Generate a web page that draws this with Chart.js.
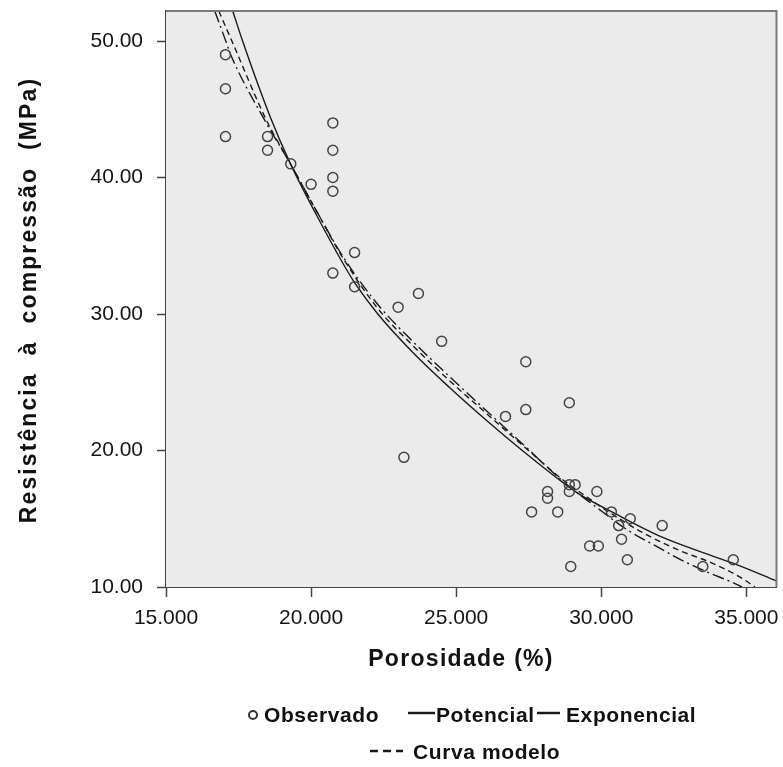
<!DOCTYPE html>
<html><head><meta charset="utf-8">
<script src="https://cdn.jsdelivr.net/npm/chart.js@4/dist/chart.umd.min.js"></script>
<style>html,body{margin:0;padding:0;background:#fff}#wrap{width:783px;height:767px;position:relative}</style>
</head><body><div id="wrap"><canvas id="c" width="783" height="767"></canvas></div>
<script>
// Observed points (Porosidade %, Resistência MPa)
const obsX = [17.05,17.05,17.05,18.5,18.5,19.3,20.0,20.75,20.75,20.75,20.75,21.5,20.75,21.5,23.7,23.0,24.5,27.4,27.4,26.7,28.9,23.2,28.9,29.1,28.9,28.15,28.15,29.85,27.6,28.5,30.35,31.0,30.6,32.1,30.7,29.6,29.9,30.9,28.95,33.5,34.55];
const obsY = [49.0,46.5,43.0,43.0,42.0,41.0,39.5,44.0,42.0,40.0,39.0,34.5,33.0,32.0,31.5,30.5,28.0,26.5,23.0,22.5,23.5,19.5,17.5,17.5,17.0,17.0,16.5,17.0,15.5,15.5,15.5,15.0,14.5,14.5,13.5,13.0,13.0,12.0,11.5,11.5,12.0];
// Potencial curve
const potX = [17.30,17.64,18.60,19.29,20.20,21.10,21.50,22.30,23.50,24.78,26.05,27.28,28.65,29.24,30.37,32.10,33.80,34.60,36.04];
const potY = [52.2,50.0,44.4,41.0,37.2,33.7,32.3,30.0,27.2,24.6,22.2,20.0,17.7,16.8,15.5,13.65,12.3,11.7,10.45];
// Exponencial curve
const expX = [16.68,17.06,17.23,18.40,19.29,20.20,21.10,22.30,23.50,24.78,26.05,27.28,28.65,29.80,30.90,32.00,32.60,33.70,34.40,34.85];
const expY = [52.2,50.0,49.0,44.2,41.0,37.5,34.2,30.7,28.0,25.4,22.9,20.5,17.8,15.9,14.18,12.87,12.15,11.05,10.45,10.0];
// Curva modelo
const modX = [16.82,17.27,18.46,19.29,20.20,21.10,22.30,23.50,24.78,26.05,27.28,28.65,29.50,30.40,31.50,32.67,33.80,34.80,35.30];
const modY = [52.2,50.0,44.2,41.0,37.5,34.1,30.4,27.7,25.1,22.7,20.4,17.9,16.6,15.3,13.9,12.7,11.77,10.7,10.0];

const xTicks = [15,20,25,30,35];
const yTicks = [10,20,30,40,50];
const xTitle = 'Porosidade (%)';
const yTitle = 'Resistência  à  compressão  (MPa)';
const seriesLabels = ['Observado','Potencial','Exponencial','Curva modelo'];

const pts = (xs, ys) => xs.map((x, i) => ({x: x, y: ys[i]}));
const INK = '#1a1a1a';
const FONT = "'Liberation Sans', Arial, sans-serif";

const decor = {
  id: 'decor',
  beforeDatasetsDraw(chart) {
    const a = chart.chartArea, ctx = chart.ctx;
    ctx.save();
    ctx.fillStyle = '#ebebeb';
    ctx.fillRect(a.left, a.top, a.right - a.left, a.bottom - a.top);
    ctx.restore();
  },
  afterDraw(chart) {
    const a = chart.chartArea, ctx = chart.ctx;
    ctx.save();
    // frame top/right
    ctx.strokeStyle = '#7a7a7a'; ctx.lineWidth = 2;
    ctx.beginPath(); ctx.moveTo(a.left, a.top); ctx.lineTo(a.right, a.top); ctx.lineTo(a.right, a.bottom); ctx.stroke();
    // axis titles
    ctx.fillStyle = '#111';
    ctx.textAlign = 'center'; ctx.textBaseline = 'middle';
    ctx.font = 'bold 23px ' + FONT;
    try { ctx.letterSpacing = '1.3px'; } catch(e) {}
    ctx.fillText(chart.options.scales.x.title.text, 461, 660);
    ctx.save();
    ctx.translate(30, 300); ctx.rotate(-Math.PI / 2);
    try { ctx.letterSpacing = '2.1px'; } catch(e) {}
    ctx.font = 'bold 23px ' + FONT;
    ctx.fillText(chart.options.scales.y.title.text, 0, 0);
    ctx.restore();
    // legend
    const ds = chart.data.datasets;
    ctx.font = 'bold 21px ' + FONT;
    try { ctx.letterSpacing = '0.6px'; } catch(e) {}
    ctx.textAlign = 'left';
    // Observado
    ctx.strokeStyle = '#333'; ctx.lineWidth = 2;
    ctx.beginPath(); ctx.arc(253, 715, 4, 0, Math.PI * 2); ctx.stroke();
    ctx.fillText(ds[0].label, 264, 716);
    // Potencial
    ctx.strokeStyle = INK; ctx.lineWidth = 2.5; ctx.setLineDash([]);
    ctx.beginPath(); ctx.moveTo(408, 713); ctx.lineTo(435, 713); ctx.stroke();
    ctx.fillText(ds[1].label, 436, 716);
    // Exponencial
    ctx.beginPath(); ctx.moveTo(537, 713); ctx.lineTo(560, 713); ctx.stroke();
    ctx.fillText(ds[2].label, 566, 716);
    // Curva modelo
    ctx.lineWidth = 2.5; ctx.setLineDash([8, 5]);
    ctx.beginPath(); ctx.moveTo(370, 751); ctx.lineTo(403, 751); ctx.stroke();
    ctx.setLineDash([]);
    ctx.fillText(ds[3].label, 413, 753);
    ctx.restore();
  }
};

new Chart(document.getElementById('c'), {
  type: 'scatter',
  data: {
    datasets: [
      { label: seriesLabels[0], data: pts(obsX, obsY), showLine: false, pointStyle: 'circle', pointRadius: 5, pointBorderWidth: 1.5, borderColor: '#454545', backgroundColor: 'rgba(0,0,0,0)', order: 0 },
      { label: seriesLabels[1], data: pts(potX, potY), showLine: true, pointRadius: 0, borderColor: INK, borderWidth: 1.4, cubicInterpolationMode: 'monotone', order: 1 },
      { label: seriesLabels[2], data: pts(expX, expY), showLine: true, pointRadius: 0, borderColor: INK, borderWidth: 1.4, borderDash: [12, 4, 2, 4], cubicInterpolationMode: 'monotone', order: 2 },
      { label: seriesLabels[3], data: pts(modX, modY), showLine: true, pointRadius: 0, borderColor: INK, borderWidth: 1.4, borderDash: [6, 4], cubicInterpolationMode: 'monotone', order: 3 }
    ]
  },
  options: {
    responsive: false,
    animation: false,
    devicePixelRatio: 1,
    layout: { padding: { top: 11, right: 6, bottom: 0, left: 0 } },
    plugins: { legend: { display: false }, tooltip: { enabled: false } },
    scales: {
      x: {
        type: 'linear', min: 15, max: 36.04,
        title: { display: false, text: xTitle },
        afterBuildTicks: s => { s.ticks = xTicks.map(v => ({ value: v })); },
        afterFit: s => { s.height = 180; s.paddingLeft = 0; s.paddingRight = 0; },
        ticks: { color: '#151515', font: { family: FONT, size: 21 }, padding: 9, maxRotation: 0, callback: v => Number(v).toFixed(3) },
        grid: { drawOnChartArea: false, drawTicks: true, tickLength: 10, tickColor: '#444', tickWidth: 1.5 },
        border: { display: true, color: '#444', width: 2 }
      },
      y: {
        type: 'linear', min: 10, max: 52.2,
        title: { display: false, text: yTitle },
        afterBuildTicks: s => { s.ticks = yTicks.map(v => ({ value: v })); },
        afterFit: s => { s.width = 166; s.paddingTop = 0; s.paddingBottom = 0; },
        ticks: { color: '#151515', font: { family: FONT, size: 21 }, padding: 14, callback: v => Number(v).toFixed(2) },
        grid: { drawOnChartArea: false, drawTicks: true, tickLength: 9, tickColor: '#444', tickWidth: 1.5 },
        border: { display: true, color: '#444', width: 2 }
      }
    }
  },
  plugins: [decor]
});
</script>
</body></html>
